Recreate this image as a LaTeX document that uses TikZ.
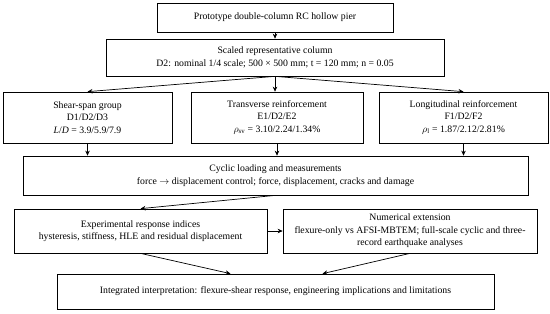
\documentclass[tikz,border=0pt]{standalone}
\usepackage{fontspec}
\setmainfont{Liberation Serif}
\usetikzlibrary{arrows.meta}
\begin{document}
\begin{tikzpicture}[x=1bp,y=-1bp,
  box/.style={draw, line width=0.7bp, inner sep=0pt, align=center,
    font=\fontsize{9.8}{12.5}\selectfont},
  arr/.style={-{Stealth[length=5bp,width=4.5bp]}, line width=0.7bp}]
\useasboundingbox (0,0) rectangle (550,313);
\node[box, minimum width=236bp, minimum height=29bp] (proto) at (275,17.5) {Prototype double-column RC hollow pier};
\node[box, minimum width=338bp, minimum height=37bp] (scaled) at (275,57.5) {Scaled representative column\\D2: nominal 1/4 scale; 500 × 500 mm; t = 120 mm; n = 0.05};
\node[box, minimum width=169bp, minimum height=51bp] (shear) at (87.5,117.5) {Shear-span group\\D1/D2/D3\\\textit{L}/\textit{D} = 3.9/5.9/7.9};
\node[box, minimum width=172bp, minimum height=51bp] (trans) at (277,117.5) {Transverse reinforcement\\E1/D2/E2\\$\rho_{\mathrm{sv}}$ = 3.10/2.24/1.34\%};
\node[box, minimum width=169bp, minimum height=51bp] (longi) at (463.5,117.5) {Longitudinal reinforcement\\F1/D2/F2\\$\rho_{\mathrm{l}}$ = 1.87/2.12/2.81\%};
\node[box, minimum width=505bp, minimum height=39bp] (cyclic) at (275.5,175.5) {Cyclic loading and measurements\\force $\rightarrow$ displacement control; force, displacement, cracks and damage};
\node[box, minimum width=253bp, minimum height=44bp] (exper) at (140.5,231) {Experimental response indices\\hysteresis, stiffness, HLE and residual displacement};
\node[box, minimum width=254bp, minimum height=44bp] (numer) at (410,231) {Numerical extension\\flexure-only vs AFSI-MBTEM; full-scale cyclic and three-\\record earthquake analyses};
\node[box, minimum width=437bp, minimum height=35bp] (integ) at (275.5,291.5) {Integrated interpretation: flexure-shear response, engineering implications and limitations};
\draw[arr] (proto.south) -- (scaled.north);
\draw[arr] (scaled.south) -- (shear.north);
\draw[arr] (scaled.south) -- (scaled.south |- trans.north);
\draw[arr] (scaled.south) -- (longi.north);
\draw[arr] (shear.south) -- (shear.south |- cyclic.north);
\draw[arr] (trans.south) -- (trans.south |- cyclic.north);
\draw[arr] (longi.south) -- (longi.south |- cyclic.north);
\draw[arr] (cyclic.south) -- (exper.north);
\draw[arr] (exper.east) -- (numer.west);
\draw[arr] (exper.south) -- ([xshift=-45bp]integ.north);
\draw[arr] (numer.south) -- ([xshift=47bp]integ.north);
\end{tikzpicture}
\end{document}
